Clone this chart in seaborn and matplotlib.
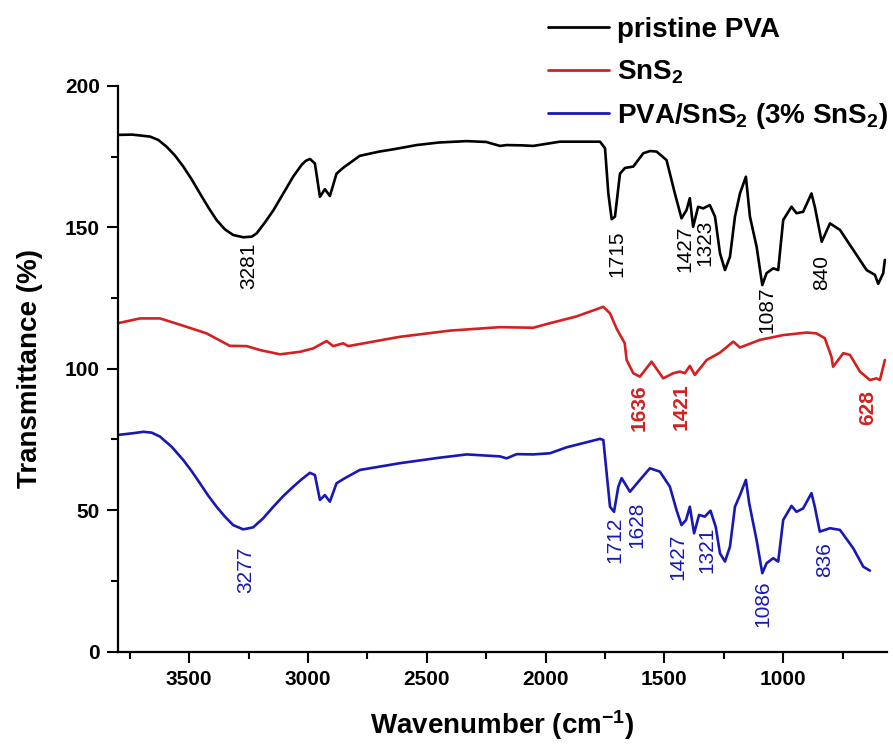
import numpy as np
import pandas as pd
import matplotlib
matplotlib.use("Agg")
import matplotlib.pyplot as plt
from matplotlib.ticker import MultipleLocator
import seaborn as sns

# ---------------- data ----------------
pva_wn = [3800, 3740, 3665, 3630, 3595, 3560, 3525, 3490, 3455, 3420, 3385, 3350, 3315, 3273,
          3237, 3216, 3181, 3146, 3104, 3062, 3027, 3010, 2992, 2971, 2950, 2929, 2908, 2880,
          2860, 2845, 2782, 2700, 2641, 2543, 2450, 2332, 2250, 2192, 2164, 2100, 2052, 2000,
          1940, 1850, 1771, 1750, 1736, 1722, 1708, 1687, 1666, 1631, 1589, 1560, 1533, 1491,
          1456, 1428, 1407, 1393, 1379, 1358, 1337, 1309, 1287, 1266, 1245, 1224, 1203, 1182,
          1157, 1140, 1112, 1088, 1070, 1042, 1021, 1000, 965, 944, 916, 881, 867, 838, 803,
          761, 705, 649, 614, 600, 579, 572]
pva_t = [182.7, 182.8, 182.1, 180.9, 178.5, 175.4, 171.5, 167.0, 162.0, 157.1, 152.6, 149.3, 147.3, 146.5,
         146.7, 147.9, 151.8, 156.0, 162.0, 168.0, 172.1, 173.5, 174.2, 172.6, 160.8, 163.5, 161.1, 169.0,
         170.5, 171.5, 175.3, 176.8, 177.6, 179.1, 180.0, 180.5, 180.2, 178.8, 179.1, 179.0, 178.8, 179.5,
         180.3, 180.3, 180.3, 178.0, 162.0, 152.9, 153.8, 169.0, 171.0, 171.5, 176.2, 177.0, 176.8, 173.8,
         162.0, 153.2, 156.1, 160.3, 150.2, 157.3, 156.7, 157.9, 153.8, 140.8, 134.9, 139.6, 153.8, 162.0,
         167.9, 153.8, 143.2, 129.6, 133.8, 135.5, 134.9, 152.6, 157.3, 155.0, 155.5, 162.0, 157.3, 144.9, 151.4,
         149.1, 142.0, 134.9, 133.2, 130.0, 133.8, 138.5]

sns2_wn = [3800, 3707, 3623, 3525, 3427, 3329, 3258, 3202, 3118, 3033, 2978, 2922, 2894, 2852,
           2831, 2613, 2400, 2192, 2052, 1982, 1870, 1757, 1729, 1700, 1667, 1659, 1631, 1603,
           1554, 1505, 1463, 1435, 1414, 1393, 1372, 1322, 1266, 1210, 1182, 1098, 1000, 900,
           860, 825, 797, 790, 747, 719, 677, 635, 607, 593, 572]
sns2_t = [116.1, 117.8, 117.8, 115.2, 112.5, 108.1, 108.0, 106.6, 105.1, 106.0, 107.2, 109.8, 108.0, 109.0,
          108.0, 111.3, 113.5, 114.7, 114.5, 116.1, 118.5, 121.9, 119.6, 114.0, 109.0, 103.1, 98.4, 97.2,
          102.5, 96.6, 98.4, 99.0, 98.4, 101.0, 97.8, 103.1, 105.7, 109.6, 107.5, 110.2, 111.9, 112.8,
          112.5, 110.8, 104.3, 100.7, 105.5, 104.9, 99.0, 96.0, 96.6, 96.0, 103.1]

comp_wn = [3799, 3736, 3693, 3658, 3623, 3574, 3525, 3490, 3455, 3420, 3385, 3350, 3315, 3273,
           3231, 3189, 3146, 3104, 3062, 3027, 2992, 2971, 2950, 2929, 2908, 2880, 2845, 2782,
           2613, 2450, 2332, 2192, 2164, 2122, 2052, 1982, 1912, 1771, 1757, 1743, 1729, 1712,
           1694, 1680, 1645, 1603, 1561, 1519, 1477, 1449, 1428, 1409, 1393, 1375, 1354, 1330,
           1306, 1284, 1266, 1245, 1224, 1203, 1182, 1157, 1143, 1112, 1088, 1070, 1042, 1021,
           1000, 965, 944, 916, 881, 867, 846, 803, 761, 705, 663, 635]
comp_t = [76.6, 77.2, 77.7, 77.4, 76.0, 72.4, 67.7, 63.8, 59.5, 55.1, 51.2, 47.7, 44.7, 43.2,
          43.9, 47.1, 51.2, 55.0, 58.3, 60.9, 63.2, 62.4, 53.6, 55.3, 53.0, 59.5, 61.3, 64.2,
          66.6, 68.5, 69.7, 69.0, 68.3, 69.8, 69.7, 70.1, 72.2, 75.2, 74.8, 63.0, 51.2, 49.4,
          58.3, 61.3, 56.5, 60.7, 64.8, 63.6, 58.3, 50.0, 44.7, 46.5, 51.2, 41.8, 48.3, 47.7,
          49.8, 44.1, 34.7, 31.8, 37.1, 51.2, 55.3, 60.7, 52.4, 39.4, 27.7, 31.2, 33.0, 31.8,
          46.5, 51.5, 49.4, 50.6, 56.0, 51.2, 42.4, 43.6, 43.0, 36.5, 30.0, 28.6]

series_names = ["pristine PVA", "SnS2", "PVA/SnS2"]
legend_labels = ["pristine PVA", r"SnS$_\mathbf{2}$", r"PVA/SnS$_\mathbf{2}$ (3% SnS$_\mathbf{2}$)"]
series_colors = ["#000000", "#d42020", "#1818b4"]

# peak labels: (text, wavenumber position, top of label in %T)
pva_peaks = ["3281", "1715", "1427", "1323", "1087", "840"]
pva_peak_x = [3249, 1698, 1414, 1330, 1070, 838]
pva_peak_y = [144.5, 148.8, 150.5, 152.9, 129.0, 140.2]

sns2_peaks = ["1636", "1421", "628"]
sns2_peak_x = [1607, 1431, 642]
sns2_peak_y = [94.3, 94.9, 92.5]

comp_peaks = ["3277", "1712", "1628", "1427", "1321", "1086", "836"]
comp_peak_x = [3262, 1708, 1617, 1442, 1322, 1084, 825]
comp_peak_y = [37.1, 47.7, 53.0, 41.8, 44.1, 25.3, 38.8]

x_ticks = [3500, 3000, 2500, 2000, 1500, 1000]
y_ticks = [0, 50, 100, 150, 200]

# ---------------- build frame ----------------
df = pd.concat([
    pd.DataFrame({"wn": pva_wn, "T": pva_t, "sample": series_names[0]}),
    pd.DataFrame({"wn": sns2_wn, "T": sns2_t, "sample": series_names[1]}),
    pd.DataFrame({"wn": comp_wn, "T": comp_t, "sample": series_names[2]}),
], ignore_index=True)

sns.set_theme(style="ticks")
plt.rcParams["font.family"] = ["Liberation Sans", "DejaVu Sans"]
plt.rcParams["mathtext.fontset"] = "custom"
plt.rcParams["mathtext.rm"] = "Liberation Sans"
plt.rcParams["mathtext.bf"] = "Liberation Sans:bold"
plt.rcParams["mathtext.it"] = "Liberation Sans:italic"
for k in ["text.color", "axes.labelcolor", "xtick.color", "ytick.color", "axes.edgecolor"]:
    plt.rcParams[k] = "black"

fig = plt.figure(figsize=(8.93, 7.45), dpi=100)
ax = fig.add_axes([0.1321, 0.1255, 0.8612, 0.7591])

sns.lineplot(data=df, x="wn", y="T", hue="sample", hue_order=series_names,
             palette=dict(zip(series_names, series_colors)), estimator=None,
             linewidth=1.9, legend=False, ax=ax)
for ln in ax.lines:
    ln.set_solid_joinstyle("round")

ax.set_xlim(3800, 563)
ax.set_ylim(0, 200)
ax.set_xticks(x_ticks)
ax.set_yticks(y_ticks)
ax.xaxis.set_minor_locator(MultipleLocator(250))
ax.yaxis.set_minor_locator(MultipleLocator(25))

for s in ["top", "right"]:
    ax.spines[s].set_visible(False)
for s in ["left", "bottom"]:
    ax.spines[s].set_linewidth(1.6)
    ax.spines[s].set_color("black")

ax.tick_params(which="major", direction="out", length=8, width=1.5, colors="black",
               labelsize=15, pad=5)
ax.tick_params(which="minor", direction="out", length=5, width=1.5, colors="black")
for lab in ax.get_xticklabels() + ax.get_yticklabels():
    lab.set_fontweight("bold")

ax.set_xlabel(r"Wavenumber (cm$^{\mathbf{-1}}$)", fontsize=20, fontweight="bold", labelpad=14)
ax.set_ylabel("Transmittance (%)", fontsize=20, fontweight="bold", labelpad=16)

# peak annotations
for txts, xs, ys, col, wt in [(pva_peaks, pva_peak_x, pva_peak_y, series_colors[0], "normal"),
                              (sns2_peaks, sns2_peak_x, sns2_peak_y, series_colors[1], "bold"),
                              (comp_peaks, comp_peak_x, comp_peak_y, series_colors[2], "normal")]:
    for t, x, y in zip(txts, xs, ys):
        ax.text(x, y, t, rotation=90, ha="center", va="top", color=col,
                fontsize=15, fontweight=wt)

leg = ax.legend(handles=ax.lines[:3], labels=legend_labels, loc="upper left",
                bbox_to_anchor=(548 / 893, 1 - 17 / 745), bbox_transform=fig.transFigure,
                frameon=False, handlelength=2.2, handletextpad=0.28, borderpad=0,
                borderaxespad=0, labelspacing=0.55,
                prop={"size": 20, "weight": "bold"})
for h in leg.get_lines():
    h.set_linewidth(2.0)

fig.savefig("out.png", dpi=100)
